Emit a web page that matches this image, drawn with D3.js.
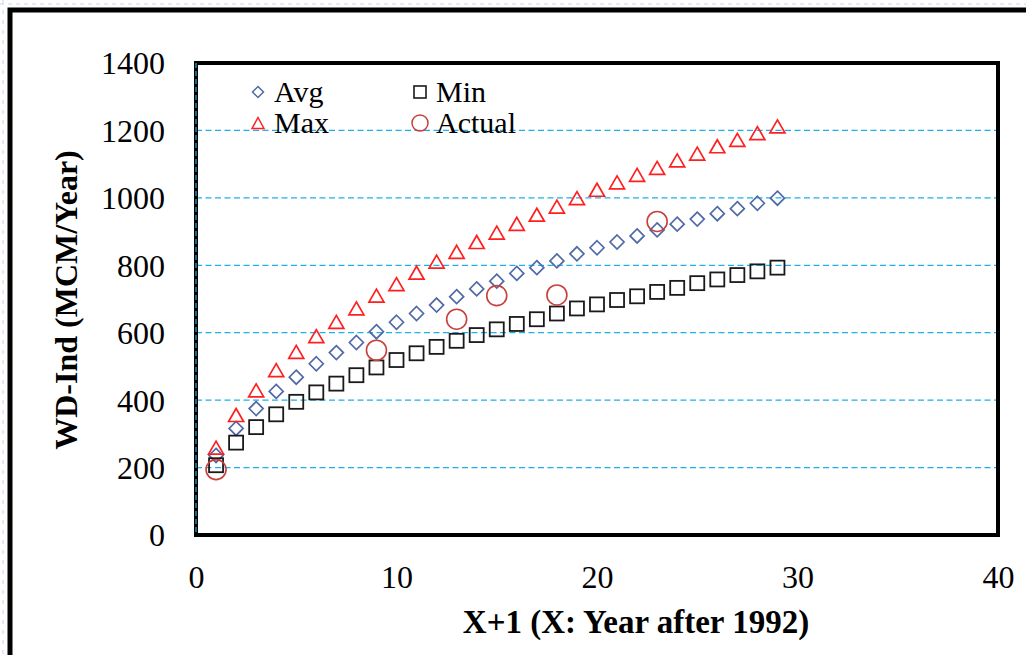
<!DOCTYPE html>
<html>
<head>
<meta charset="utf-8">
<script src="https://cdn.jsdelivr.net/npm/d3@7"></script>
<style>
  body { margin: 0; background: #fff; }
  svg { display: block; }
</style>
</head>
<body>
<svg id="svg" width="1026" height="655"></svg>
<script>
// data
let years = [1, 2, 3, 4, 5, 6, 7, 8, 9, 10, 11, 12, 13, 14, 15, 16, 17, 18, 19, 20, 21, 22, 23, 24, 25, 26, 27, 28, 29];
let avgVals = [236, 316, 375, 426, 468, 508, 541, 571, 603, 631, 657, 682, 707, 730, 753, 776, 793, 813, 834, 852, 869, 887, 905, 922, 937, 953, 968, 984, 999];
let minVals = [207, 274, 320, 358, 395, 423, 449, 474, 497, 519, 539, 558, 576, 593, 610, 626, 640, 657, 672, 684, 697, 708, 721, 733, 747, 758, 771, 782, 793];
let maxVals = [259, 356, 429, 489, 543, 590, 632, 672, 710, 744, 778, 811, 840, 869, 897, 923, 950, 974, 999, 1024, 1046, 1068, 1089, 1111, 1131, 1153, 1172, 1192, 1212];
let actualYears = [1, 9, 13, 15, 18, 23];
let actualVals = [194, 548, 640, 710, 712, 930];

let xTicks = [0, 10, 20, 30, 40];
let yTicks = [0, 200, 400, 600, 800, 1000, 1200, 1400];
let gridTicks = [200, 400, 600, 800, 1000, 1200];

let plotL = 196, plotR = 998, plotT = 63, plotB = 535;
let serif = "'Liberation Serif', 'Times New Roman', serif";

let x = d3.scaleLinear().domain([0, 40]).range([plotL, plotR]);
let y = d3.scaleLinear().domain([0, 1400]).range([plotB, plotT]);

let svg = d3.select("#svg");

// faint page guide lines and outer frame
svg.append("line").attr("x1", 0).attr("x2", 1026).attr("y1", 4).attr("y2", 4)
    .style("stroke", "#c9d3ee").style("stroke-width", 1).style("stroke-dasharray", "4,4");
svg.append("line").attr("x1", 3).attr("x2", 3).attr("y1", 0).attr("y2", 655)
    .style("stroke", "#c9d3ee").style("stroke-width", 1).style("stroke-dasharray", "4,6");
svg.append("rect").attr("x", 10).attr("y", 10).attr("width", 1060).attr("height", 700)
    .style("fill", "none").style("stroke", "#000").style("stroke-width", 5);

// gridlines
svg.append("g").selectAll("line")
    .data(gridTicks)
    .enter()
    .append("line")
    .attr("x1", plotL).attr("x2", plotR)
    .attr("y1", d => y(d)).attr("y2", d => y(d))
    .style("stroke", "#1fb0ea").style("stroke-width", 1.3).style("stroke-dasharray", "6,3.5");

// plot frame
svg.append("rect")
    .attr("x", plotL).attr("y", plotT)
    .attr("width", plotR - plotL).attr("height", plotB - plotT)
    .style("fill", "none").style("stroke", "#000").style("stroke-width", 4);
svg.append("line").attr("x1", plotL).attr("x2", plotL).attr("y1", plotT).attr("y2", plotB)
    .style("stroke", "#1fb0ea").style("stroke-width", 1.2).style("stroke-dasharray", "5,3");

// axes (labels only)
let yAxis = d3.axisLeft(y).tickValues(yTicks).tickFormat(d3.format("d")).tickSize(0).tickPadding(0);
let gy = svg.append("g").attr("transform", `translate(${plotL - 31},0)`).call(yAxis);
gy.select(".domain").remove();
gy.selectAll("text").style("font-size", "32px").style("font-family", serif).style("fill", "#000").attr("dy", "0.34em");

let xAxis = d3.axisBottom(x).tickValues(xTicks).tickFormat(d3.format("d")).tickSize(0).tickPadding(0);
let gx = svg.append("g").attr("transform", `translate(0,566)`).call(xAxis);
gx.select(".domain").remove();
gx.selectAll("text").style("font-size", "32px").style("font-family", serif).style("fill", "#000").attr("dy", "0.7em");

// axis titles
svg.append("text")
    .attr("x", 636).attr("y", 633)
    .attr("text-anchor", "middle")
    .style("font-family", serif)
    .style("font-size", "33px").style("font-weight", "bold")
    .text("X+1 (X: Year after 1992)");

svg.append("text")
    .attr("transform", "translate(77,300) rotate(-90)")
    .attr("text-anchor", "middle")
    .style("font-family", serif)
    .style("font-size", "32px").style("font-weight", "bold")
    .text("WD-Ind (MCM/Year)");

// marker shapes
function diamond(s) { return `M0,${-s}L${s},0L0,${s}L${-s},0Z`; }
function triangle(w, h) { return `M0,${-h / 2}L${w / 2},${h / 2}L${-w / 2},${h / 2}Z`; }

let avgColor = "#4f6aa6", minColor = "#1a1a1a", maxColor = "#ff1f1f", actColor = "#c8403c";

let marks = svg.append("g");

marks.selectAll(".avg")
    .data(years)
    .enter()
    .append("path")
    .attr("class", "avg")
    .attr("d", diamond(7))
    .attr("transform", (d, i) => `translate(${x(d)},${y(avgVals[i])})`)
    .style("fill", "none").style("stroke", avgColor).style("stroke-width", 1.7);

marks.selectAll(".min")
    .data(years)
    .enter()
    .append("rect")
    .attr("class", "min")
    .attr("x", d => x(d) - 7).attr("y", (d, i) => y(minVals[i]) - 7)
    .attr("width", 14).attr("height", 14)
    .style("fill", "none").style("stroke", minColor).style("stroke-width", 1.8);

marks.selectAll(".max")
    .data(years)
    .enter()
    .append("path")
    .attr("class", "max")
    .attr("d", triangle(15, 13))
    .attr("transform", (d, i) => `translate(${x(d)},${y(maxVals[i])})`)
    .style("fill", "none").style("stroke", maxColor).style("stroke-width", 1.7);

marks.selectAll(".actual")
    .data(actualYears)
    .enter()
    .append("circle")
    .attr("class", "actual")
    .attr("cx", d => x(d)).attr("cy", (d, i) => y(actualVals[i]))
    .attr("r", 10)
    .style("fill", "none").style("stroke", actColor).style("stroke-width", 1.6);

// legend
let legend = svg.append("g");
let legendItems = [
    { name: "Avg", kind: "avg", lx: 258, ly: 92 },
    { name: "Min", kind: "min", lx: 420, ly: 92 },
    { name: "Max", kind: "max", lx: 258, ly: 123 },
    { name: "Actual", kind: "actual", lx: 420, ly: 123 }
];
legendItems.forEach(item => {
    let g = legend.append("g").attr("transform", `translate(${item.lx},${item.ly})`);
    if (item.kind == "avg") {
        g.append("path").attr("d", diamond(5.5))
            .style("fill", "none").style("stroke", avgColor).style("stroke-width", 1.5);
    } else if (item.kind == "min") {
        g.append("rect").attr("x", -6).attr("y", -6).attr("width", 12).attr("height", 12)
            .style("fill", "none").style("stroke", minColor).style("stroke-width", 1.6);
    } else if (item.kind == "max") {
        g.append("path").attr("d", triangle(12, 11))
            .style("fill", "none").style("stroke", maxColor).style("stroke-width", 1.5);
    } else {
        g.append("circle").attr("r", 8)
            .style("fill", "none").style("stroke", actColor).style("stroke-width", 1.5);
    }
    g.append("text")
        .attr("x", 16).attr("y", 10)
        .style("font-family", serif)
        .style("font-size", "30px")
        .text(item.name);
});
</script>
</body>
</html>
